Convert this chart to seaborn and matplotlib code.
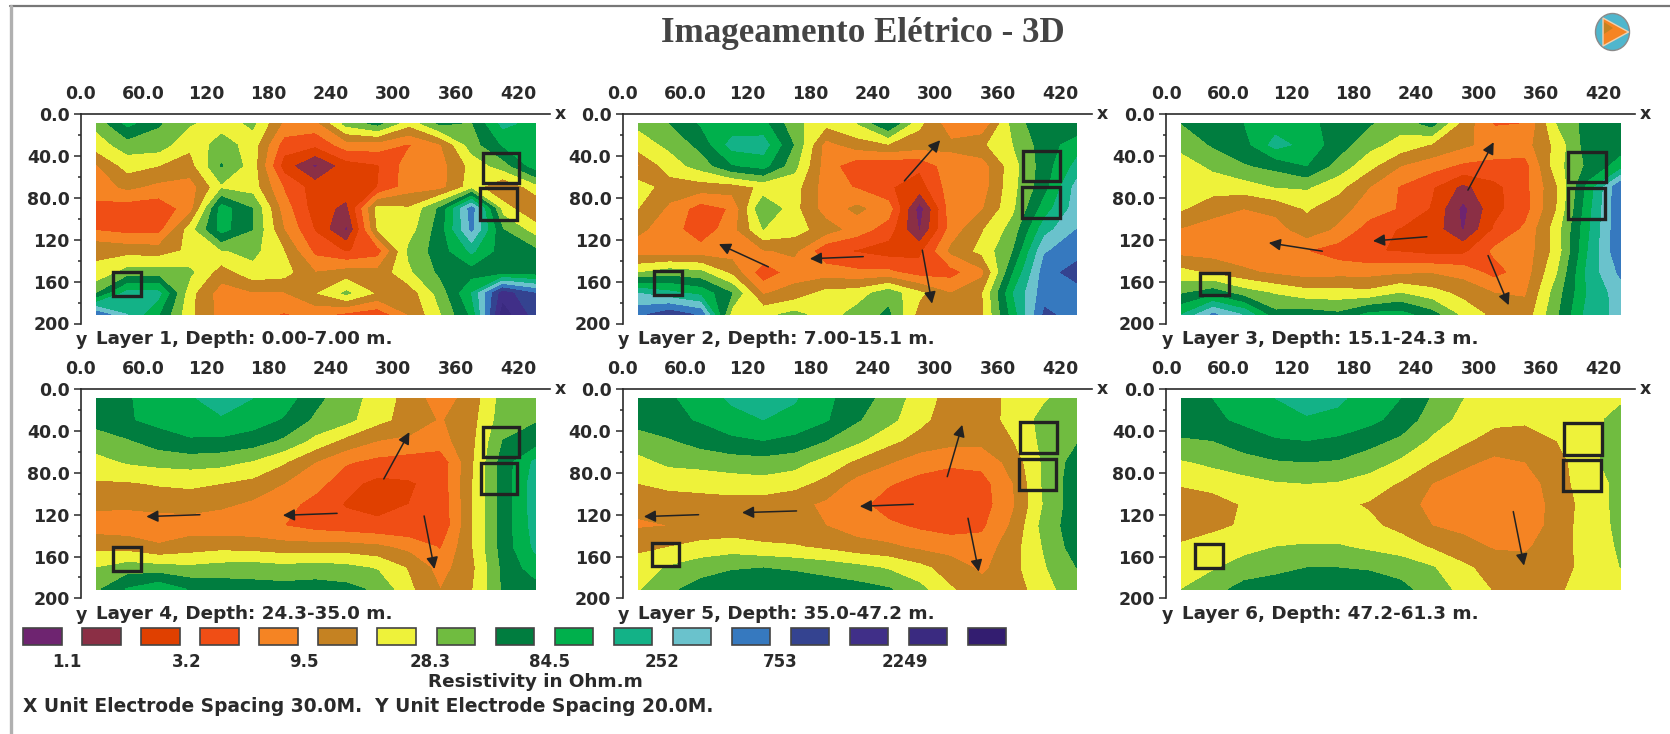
import numpy as np
import pandas as pd
import seaborn as sns
import matplotlib
matplotlib.use("Agg")
import matplotlib.pyplot as plt
from matplotlib.patches import Rectangle, Ellipse, Polygon

# legend classes, one colour per resistivity band
class_colors = ["#6e2470", "#8b2f45", "#e04000", "#f04e15", "#f58423", "#c58222",
                "#eef23a", "#70bc40", "#007d3f", "#00b04c", "#13b287", "#6ac2cc",
                "#3679bf", "#344390", "#402f88", "#3a2a80", "#331d70"]
class_ids = [str(i) for i in range(17)]
legend_labels = ["1.1", "3.2", "9.5", "28.3", "84.5", "252", "753", "2249"]

x_ticks = list(range(0, 421, 60))
x_tick_labels = ["0.0", "60.0", "120", "180", "240", "300", "360", "420"]
y_ticks = list(range(0, 201, 40))
y_tick_labels = ["0.0", "40.0", "80.0", "120", "160", "200"]

captions = ["Layer 1, Depth: 0.00-7.00 m.", "Layer 2, Depth: 7.00-15.1 m.",
            "Layer 3, Depth: 15.1-24.3 m.", "Layer 4, Depth: 24.3-35.0 m.",
            "Layer 5, Depth: 35.0-47.2 m.", "Layer 6, Depth: 47.2-61.3 m."]

# electrode grid, values in legend class units
x_pos = [15, 45, 75, 105, 135, 165, 195, 225, 255, 285, 315, 345, 375, 405, 436]
y_pos = [8.5, 29, 49, 69.5, 90, 110, 130.5, 151, 171, 191.5]

layer1 = [
    [7.3, 9.3, 8.1, 7.1, 6.5, 7.2, 4.8, 4.6, 7.4, 8.3, 6.3, 8.2, 7.9, 10.3, 9.6],
    [6.5, 7.5, 7.5, 6.2, 7.5, 6.5, 3.5, 3.2, 4.5, 4.5, 3.9, 4.9, 7.5, 9.1, 9.5],
    [4.9, 6.4, 6.0, 5.6, 8.05, 6.5, 2.5, 0.8, 2.5, 2.9, 4.5, 4.6, 6.3, 7.5, 9.5],
    [4.5, 5.2, 4.7, 4.5, 6.8, 6.5, 3.9, 2.5, 2.5, 3.0, 4.5, 4.6, 6.5, 5.0, 6.5],
    [3.7, 3.4, 3.3, 4.5, 9.5, 8.0, 4.5, 2.5, 1.7, 6.4, 6.1, 8.2, 12.5, 6.5, 5.0],
    [3.9, 3.6, 3.6, 6.5, 9.4, 8.0, 5.0, 2.9, 0.8, 6.1, 6.5, 8.5, 12.2, 8.0, 6.5],
    [5.8, 5.6, 5.5, 6.2, 6.9, 7.3, 6.0, 3.7, 2.9, 3.5, 7.2, 8.5, 10.2, 8.5, 8.2],
    [6.2, 7.4, 7.4, 7.2, 5.5, 6.6, 6.4, 5.0, 5.4, 5.3, 6.8, 8.2, 8.5, 8.5, 8.4],
    [7.9, 10.4, 10.3, 6.3, 4.5, 4.9, 4.9, 5.9, 7.2, 5.8, 5.4, 7.4, 10.0, 14.5, 13.0],
    [12.8, 11.0, 9.0, 6.2, 4.6, 4.4, 3.9, 4.3, 3.7, 3.3, 5.0, 6.9, 9.2, 15.5, 13.5],
]
layer2 = [
    [7.2, 8.0, 9.1, 9.3, 9.3, 7.3, 6.3, 7.0, 9.0, 6.2, 4.4, 4.1, 7.4, 8.8, 8.2],
    [6.5, 7.2, 8.3, 10.4, 10.5, 7.9, 4.6, 5.5, 5.9, 5.5, 5.2, 5.8, 7.0, 8.5, 9.5],
    [4.9, 6.5, 7.4, 8.9, 9.4, 7.3, 4.5, 3.3, 3.2, 3.2, 4.6, 4.5, 6.6, 8.5, 10.3],
    [6.5, 5.5, 5.5, 5.5, 6.2, 6.4, 4.5, 3.9, 3.1, 2.5, 4.5, 4.5, 6.7, 8.6, 11.4],
    [6.0, 4.8, 3.5, 4.1, 8.0, 6.3, 4.5, 5.2, 4.5, 0.5, 4.5, 4.9, 6.8, 9.5, 11.5],
    [5.2, 4.5, 3.3, 4.6, 7.0, 6.4, 5.5, 4.5, 3.5, 0.9, 4.4, 5.9, 7.4, 10.6, 12.0],
    [4.5, 4.4, 4.4, 4.5, 4.9, 5.2, 3.2, 2.9, 2.5, 2.7, 5.2, 6.3, 8.0, 11.9, 12.5],
    [6.9, 7.5, 7.2, 5.7, 3.3, 4.5, 4.5, 4.2, 4.2, 3.5, 3.6, 4.7, 9.0, 12.5, 13.5],
    [11.0, 10.3, 9.7, 8.0, 4.9, 5.4, 6.3, 6.5, 7.6, 6.2, 5.0, 5.9, 10.0, 12.6, 12.5],
    [12.7, 13.7, 12.8, 6.5, 6.7, 7.3, 6.5, 7.4, 8.2, 5.6, 5.4, 5.8, 9.5, 13.2, 12.6],
]
layer3 = [
    [8.0, 8.4, 9.0, 9.5, 9.4, 8.4, 8.1, 7.4, 8.4, 5.6, 3.9, 4.0, 7.0, 8.4, 8.5],
    [7.3, 8.1, 8.6, 10.4, 9.6, 8.5, 7.3, 6.6, 5.9, 5.2, 4.6, 4.6, 6.3, 8.5, 8.5],
    [6.5, 7.2, 7.9, 8.3, 9.0, 7.6, 6.3, 5.0, 4.4, 3.8, 3.7, 3.6, 6.6, 8.2, 9.4],
    [6.5, 6.4, 6.5, 7.0, 7.1, 6.3, 5.0, 3.9, 3.1, 1.7, 2.7, 3.7, 5.9, 9.3, 12.9],
    [6.1, 5.4, 5.0, 5.3, 6.1, 5.4, 4.5, 3.9, 2.9, 0.7, 2.7, 3.6, 6.0, 9.6, 12.9],
    [4.9, 4.5, 4.2, 4.5, 5.6, 4.8, 3.5, 2.9, 2.6, 0.9, 3.1, 4.2, 6.5, 9.8, 12.9],
    [4.6, 4.5, 4.3, 4.4, 4.0, 3.5, 3.1, 2.9, 2.6, 2.7, 4.2, 4.4, 6.4, 10.0, 12.9],
    [6.3, 5.8, 5.2, 4.8, 4.5, 4.6, 4.6, 4.8, 4.9, 4.6, 3.6, 4.5, 6.9, 10.3, 12.2],
    [7.9, 8.6, 7.5, 6.9, 6.4, 6.4, 6.3, 7.0, 6.4, 5.7, 5.0, 4.9, 7.5, 10.1, 11.5],
    [10.0, 12.2, 10.9, 8.3, 8.5, 8.2, 9.3, 9.4, 8.4, 6.7, 5.7, 5.4, 7.8, 10.4, 11.3],
]
layer4 = [
    [8.9, 8.9, 9.5, 9.9, 10.4, 10.0, 9.5, 8.3, 7.3, 6.7, 5.5, 4.5, 5.4, 7.4, 7.5],
    [8.3, 8.9, 9.3, 9.5, 9.9, 9.5, 8.9, 7.8, 7.3, 6.3, 5.6, 4.9, 5.6, 7.5, 7.9],
    [7.6, 7.9, 8.5, 8.9, 8.8, 8.5, 7.8, 6.7, 5.7, 5.0, 4.8, 4.6, 5.7, 8.0, 8.4],
    [6.6, 7.1, 7.3, 7.4, 7.3, 6.9, 6.1, 5.0, 4.1, 3.7, 3.5, 3.3, 5.8, 8.4, 10.2],
    [5.9, 5.9, 6.1, 6.2, 6.0, 5.7, 5.0, 4.4, 3.3, 2.7, 2.9, 3.3, 5.9, 8.4, 10.5],
    [5.2, 5.2, 5.3, 5.4, 5.2, 4.8, 4.4, 3.6, 2.9, 2.7, 3.0, 3.2, 5.9, 8.4, 10.5],
    [4.5, 4.4, 4.5, 4.5, 4.3, 4.3, 4.0, 3.6, 3.4, 3.2, 3.1, 3.1, 5.9, 8.4, 10.4],
    [5.7, 5.6, 5.1, 5.5, 5.7, 5.6, 5.4, 5.4, 5.4, 5.2, 4.7, 3.9, 5.9, 8.4, 10.2],
    [7.0, 7.5, 7.4, 7.2, 7.4, 7.5, 7.3, 7.5, 7.3, 6.9, 5.9, 4.6, 5.7, 8.2, 9.5],
    [7.8, 9.1, 9.8, 8.9, 8.6, 8.4, 8.4, 8.4, 8.3, 7.8, 6.2, 5.0, 5.9, 8.1, 8.5],
]
layer5 = [
    [8.4, 8.9, 9.3, 10.2, 10.4, 10.1, 9.2, 8.5, 7.6, 6.5, 5.6, 5.3, 6.4, 6.9, 7.5],
    [8.4, 8.7, 9.1, 9.6, 10.0, 9.7, 9.1, 8.1, 7.3, 6.3, 5.4, 5.4, 6.4, 7.3, 7.6],
    [7.5, 7.9, 8.4, 8.8, 9.0, 8.7, 8.0, 7.2, 6.3, 5.6, 5.3, 5.3, 6.0, 7.3, 7.9],
    [6.7, 7.2, 7.3, 7.5, 7.6, 7.4, 6.6, 5.8, 5.1, 4.5, 4.2, 4.3, 5.4, 7.2, 8.4],
    [6.0, 6.3, 6.4, 6.5, 6.6, 6.3, 5.7, 4.6, 4.1, 3.6, 3.4, 3.6, 5.0, 7.2, 8.6],
    [5.2, 5.4, 5.5, 5.6, 5.5, 5.3, 4.8, 4.3, 3.5, 3.2, 3.3, 3.5, 4.9, 7.1, 8.6],
    [4.9, 5.0, 5.3, 5.3, 5.3, 5.2, 5.0, 4.5, 4.2, 3.8, 3.5, 3.8, 5.2, 7.4, 8.6],
    [5.7, 6.0, 6.3, 6.5, 6.2, 6.1, 5.8, 5.4, 5.2, 4.8, 4.6, 4.4, 5.6, 7.1, 8.5],
    [6.6, 7.1, 7.6, 7.9, 8.0, 7.8, 7.6, 7.3, 6.9, 6.3, 5.5, 4.8, 5.7, 6.9, 8.0],
    [6.9, 7.8, 8.4, 8.7, 8.9, 9.0, 8.6, 8.4, 8.1, 7.3, 6.1, 5.4, 5.4, 6.7, 7.5],
]
layer6 = [
    [8.5, 9.0, 9.5, 10.0, 10.4, 10.2, 9.5, 9.0, 7.9, 7.0, 6.5, 6.4, 6.4, 6.5, 6.8],
    [8.5, 8.8, 9.2, 9.6, 9.9, 9.7, 9.3, 8.6, 7.5, 6.7, 6.3, 6.2, 6.4, 6.6, 7.4],
    [7.9, 8.0, 8.5, 8.9, 9.0, 8.8, 8.3, 7.8, 6.8, 6.2, 5.5, 5.4, 6.0, 6.6, 7.4],
    [6.9, 7.2, 7.6, 7.9, 8.0, 7.9, 7.5, 6.8, 6.0, 5.2, 4.8, 5.0, 5.6, 6.7, 7.5],
    [6.1, 6.4, 6.6, 6.9, 7.0, 6.9, 6.5, 5.9, 5.0, 4.6, 4.4, 4.5, 5.5, 6.6, 7.2],
    [5.4, 5.5, 6.1, 6.2, 6.3, 6.2, 5.9, 5.3, 4.8, 4.4, 4.2, 4.3, 5.4, 6.4, 7.3],
    [5.3, 5.8, 6.1, 6.4, 6.4, 6.3, 6.2, 5.7, 5.0, 4.7, 4.4, 4.4, 5.4, 6.5, 7.2],
    [6.2, 6.4, 6.7, 7.0, 7.1, 7.1, 6.8, 6.5, 5.9, 5.4, 4.9, 4.9, 5.4, 6.5, 7.1],
    [6.5, 6.9, 7.4, 7.7, 8.0, 8.0, 7.9, 7.6, 7.1, 6.2, 5.6, 5.3, 5.5, 6.4, 7.0],
    [7.0, 7.6, 8.4, 8.6, 8.7, 8.7, 8.6, 8.3, 7.5, 6.7, 5.9, 5.3, 5.8, 6.5, 6.5],
]
layers = [layer1, layer2, layer3, layer4, layer5, layer6]

# marked zones as (x0, x1, y0, y1)
boxes = [
    [(385.6, 421, 36.7, 65.4), (383, 419, 70.8, 101), (31, 58, 151, 174)],
    [(384.6, 420, 34.8, 63.5), (383.6, 419.5, 69, 98.6), (30, 57.5, 149.6, 173)],
    [(386, 422, 36, 64.8), (385.6, 421.6, 70.8, 99.8), (32.5, 60, 151.5, 173)],
    [(385.6, 421, 36, 64.4), (384, 419, 71, 100), (31, 58, 151, 174)],
    [(381, 417, 31.6, 61), (380, 416, 67, 96), (28, 54, 147, 169)],
    [(382, 418, 32.5, 63), (381, 417, 68, 97), (28, 55, 148, 171)],
]
# arrows as (tail x, tail y, head x, head y)
arrows = [
    [],
    [(270.5, 63.5, 304.8, 24.6), (231, 136, 179.8, 138), (140, 145.8, 92.5, 124), (287.7, 129.8, 297, 181)],
    [(289.7, 72.4, 314.4, 26.5), (250.3, 117, 198.6, 121), (150, 130.8, 98.6, 122.8), (309, 135, 328.8, 182.5)],
    [(290.8, 85.8, 315.4, 41), (246, 118.7, 194, 120.6), (114.4, 120, 63, 121.8), (329.5, 121.2, 339.4, 172)],
    [(311.6, 83.6, 326, 34), (279, 110, 227.7, 112), (167, 116.4, 114.7, 118), (73, 120, 20.5, 121.8), (331.5, 123.4, 341.8, 174.5)],
    [(333.2, 117, 343.5, 168.7)],
]

W, H = 1670, 734
INK = "#2a2a2a"

sns.set_style("white")
plt.rcParams["font.family"] = ["DejaVu Sans"]
plt.rcParams["font.weight"] = "bold"
palette = sns.color_palette(class_colors)

fig = plt.figure(figsize=(W / 100, H / 100), dpi=100, facecolor="white")


def px_axes(left, top, width, height):
    return fig.add_axes([left / W, 1 - (top + height) / H, width / W, height / H])


# page furniture drawn in pixel coordinates
page = px_axes(0, 0, W, H)
page.set_xlim(0, W)
page.set_ylim(H, 0)
page.axis("off")
page.plot([10, W], [6, 6], color="#777777", lw=1.6)
page.plot([11, 11], [6, H], color="#b0b0b0", lw=2.4)
page.text(863, 34, "Imageamento Elétrico - 3D", family="Liberation Serif", weight="bold",
          fontsize=25.2, color="#444444", ha="center", va="center")
page.add_patch(Ellipse((1612.5, 32), 34, 37, fc="#4fb6cd", ec="#8a8a8a", lw=1))
page.add_patch(Polygon([(1603, 18), (1628.6, 32), (1603, 46)], fc="#f58423", ec="#f0d0b0", lw=1))
page.add_patch(Polygon([(1604, 22), (1613, 28), (1604, 34)], fc="#c58222", ec="none"))
page.text(535, 682, "Resistivity in Ohm.m", fontsize=13.2, color=INK, ha="center", va="center")
page.text(23, 707, "X Unit Electrode Spacing 30.0M.  Y Unit Electrode Spacing 20.0M.",
          fontsize=13.4, color=INK, ha="left", va="center")

panel_left = [80.7, 622.5, 1166]
panel_top = [114.5, 389.3]
for i, grid in enumerate(layers):
    ax = px_axes(panel_left[i % 3], panel_top[i // 3], 469, 209)
    ax.contourf(x_pos, y_pos, np.array(grid), levels=np.arange(0, 18), colors=palette)
    ax.set_xlim(0, 450)
    ax.set_ylim(200, 0)
    ax.xaxis.tick_top()
    ax.set_xticks(x_ticks)
    ax.set_xticklabels(x_tick_labels, fontsize=12.5, color=INK)
    ax.set_xticks(range(30, 450, 60), minor=True)
    ax.set_yticks(y_ticks)
    ax.set_yticklabels(y_tick_labels, fontsize=12.5, color=INK)
    ax.set_yticks(range(20, 200, 40), minor=True)
    ax.tick_params(which="major", length=5, width=1.1, color=INK, pad=3, left=True, top=True)
    ax.tick_params(axis="x", which="minor", length=4, width=1.1, color=INK, top=True)
    ax.tick_params(axis="y", which="minor", length=2.5, width=1.1, color=INK, left=True)
    sns.despine(ax=ax, top=False, right=True, bottom=True, left=False)
    for side in ["top", "left"]:
        ax.spines[side].set_linewidth(1.2)
        ax.spines[side].set_color(INK)
    ax.patch.set_alpha(0)
    for x0, x1, y0, y1 in boxes[i]:
        ax.add_patch(Rectangle((x0, y0), x1 - x0, y1 - y0, fill=False, ec="#222222", lw=2.4))
    for tx, ty, hx, hy in arrows[i]:
        ax.annotate("", xy=(hx, hy), xytext=(tx, ty),
                    arrowprops=dict(arrowstyle="-|>,head_length=0.7,head_width=0.35",
                                    color="#222222", lw=1.1, shrinkA=0, shrinkB=0))
    ax.text(455, 0, "x", fontsize=12.5, color=INK, ha="left", va="center", clip_on=False)
    ax.text(1, 216, "y", fontsize=12.5, color=INK, ha="center", va="center", clip_on=False)
    ax.text(15, 215, captions[i], fontsize=13.2, color=INK, ha="left", va="center", clip_on=False)

# colour key
key = px_axes(12.8, 628, 1004, 17)
legend_df = pd.DataFrame({"band": class_ids, "height": [1] * len(class_ids)})
sns.barplot(data=legend_df, x="band", y="height", hue="band", palette=palette, width=0.65,
            saturation=1, edgecolor="#444444", linewidth=1.2, legend=False, ax=key)
for bar in key.patches:
    bar.set_clip_on(False)
key.set_xlim(-0.5, 16.5)
key.set_ylim(0, 1)
key.set_xlabel("")
key.set_ylabel("")
key.set_yticks([])
key.set_xticks([0.42, 2.45, 4.43, 6.56, 8.58, 10.5, 12.5, 14.6])
key.set_xticklabels(legend_labels, fontsize=12, color=INK)
key.tick_params(axis="x", length=0, pad=6)
sns.despine(ax=key, left=True, bottom=True)
key.patch.set_alpha(0)

fig.savefig("out.png", dpi=100)
